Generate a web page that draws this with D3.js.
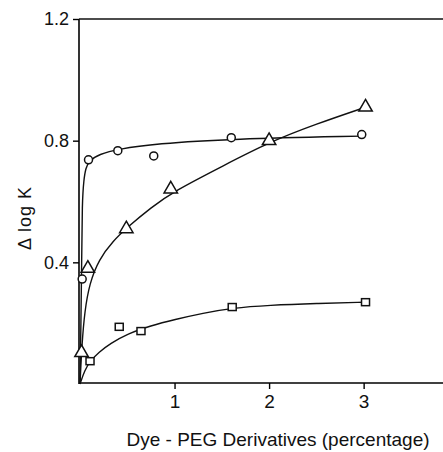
<!DOCTYPE html>
<meta charset="utf-8">
<script src="https://d3js.org/d3.v7.min.js"></script>
<style>
  body { margin: 0; background: #fff; }
  text { font-family: "Liberation Sans", Arial, sans-serif; fill: #111; }
</style>
<body>
<svg width="443" height="452"></svg>
<script>
var circleX = [0.023, 0.09, 0.40, 0.78, 1.60, 2.98];
var circleY = [0.345, 0.737, 0.767, 0.75, 0.81, 0.82];
var triX = [0.016, 0.083, 0.49, 0.96, 2.0, 3.02];
var triY = [0.103, 0.38, 0.51, 0.641, 0.80, 0.91];
var sqX = [0.106, 0.415, 0.645, 1.61, 3.02];
var sqY = [0.075, 0.188, 0.174, 0.253, 0.269];

// hand-drawn fit curves
var circleFitX = [0, 0.01, 0.018, 0.023, 0.04, 0.06, 0.1, 0.2, 0.4, 0.8, 1.6, 2.98];
var circleFitY = [0, 0.2, 0.4, 0.6, 0.67, 0.71, 0.735, 0.755, 0.772, 0.79, 0.806, 0.815];
var triFitX = [0, 0.02, 0.05, 0.1, 0.2, 0.35, 0.5, 0.75, 1.0, 1.5, 2.0, 2.5, 3.02];
var triFitY = [0, 0.13, 0.24, 0.33, 0.41, 0.47, 0.515, 0.58, 0.635, 0.715, 0.795, 0.855, 0.91];
var sqFitX = [0, 0.05, 0.106, 0.2, 0.32, 0.5, 0.75, 1.0, 1.3, 1.61, 2.0, 2.5, 3.02];
var sqFitY = [0, 0.045, 0.075, 0.105, 0.133, 0.165, 0.192, 0.212, 0.233, 0.25, 0.259, 0.265, 0.269];

var xTicks = [1, 2, 3];
var yTicks = [0.4, 0.8, 1.2];

var svg = d3.select('svg');
var x = d3.scaleLinear().domain([0, 3.85]).range([80, 444]);
var y = d3.scaleLinear().domain([0, 1.2]).range([384, 19]);

function zip(a, b){ return a.map(function(v, i){ return [v, b[i]]; }); }

// frame: left axis, bottom axis, top line
svg.append('g')
    .attr('transform', 'translate(79,0)')
    .call(d3.axisLeft(y).tickValues(yTicks).tickSize(6).tickPadding(4)
      .tickFormat(d3.format('.1f')))
    .call(function(g){
      g.select('.domain').attr('d', 'M0,19V384').attr('stroke-width', 1.6);
      g.selectAll('line').attr('stroke-width', 1.4);
      g.selectAll('text').attr('font-size', 18);
    });

svg.append('g')
    .attr('transform', 'translate(0,383)')
    .call(d3.axisBottom(x).tickValues(xTicks).tickSize(6).tickPadding(6)
      .tickFormat(d3.format('d')))
    .call(function(g){
      g.select('.domain').attr('d', 'M79,0H443').attr('stroke-width', 1.6);
      g.selectAll('line').attr('stroke-width', 1.4);
      g.selectAll('text').attr('font-size', 19);
    });

svg.append('line')
    .attr('x1', 79).attr('x2', 443).attr('y1', 19).attr('y2', 19)
    .attr('stroke', '#111').attr('stroke-width', 1.6);

// fit curves
var line = d3.line()
    .x(function(d){ return x(d[0]); })
    .y(function(d){ return y(d[1]); })
    .curve(d3.curveBasis);

[[circleFitX, circleFitY], [triFitX, triFitY], [sqFitX, sqFitY]].forEach(function(s){
  svg.append('path')
      .attr('d', line(zip(s[0], s[1])))
      .attr('fill', 'none')
      .attr('stroke', '#111')
      .attr('stroke-width', 1.4);
});

// markers
svg.selectAll('circle.pt').data(zip(circleX, circleY)).enter()
    .append('circle')
    .attr('class', 'pt')
    .attr('cx', function(d){ return x(d[0]); })
    .attr('cy', function(d){ return y(d[1]); })
    .attr('r', 4)
    .attr('fill', '#fff').attr('stroke', '#111').attr('stroke-width', 1.5);

svg.selectAll('path.tri').data(zip(triX, triY)).enter()
    .append('path')
    .attr('class', 'tri')
    .attr('d', d3.symbol().type(d3.symbolTriangle).size(78))
    .attr('transform', function(d){ return 'translate(' + x(d[0]) + ',' + y(d[1]) + ')'; })
    .attr('fill', '#fff').attr('stroke', '#111').attr('stroke-width', 1.5);

svg.selectAll('rect.sq').data(zip(sqX, sqY)).enter()
    .append('rect')
    .attr('class', 'sq')
    .attr('x', function(d){ return x(d[0]) - 4; })
    .attr('y', function(d){ return y(d[1]) - 3.5; })
    .attr('width', 8).attr('height', 7)
    .attr('fill', '#fff').attr('stroke', '#111').attr('stroke-width', 1.5);

// axis titles
svg.append('text')
    .attr('x', 278).attr('y', 446)
    .attr('text-anchor', 'middle')
    .attr('font-size', 19)
    .text('Dye - PEG Derivatives (percentage)');

svg.append('text')
    .attr('transform', 'translate(31,218) rotate(-90)')
    .attr('text-anchor', 'middle')
    .attr('font-size', 18)
    .attr('letter-spacing', 1)
    .text('Δ log K');
</script>
